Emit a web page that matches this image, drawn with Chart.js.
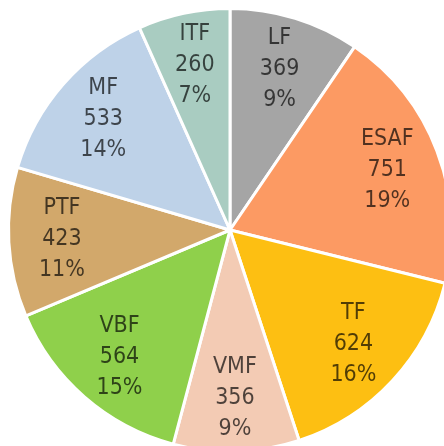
<!DOCTYPE html>
<html>
<head>
<meta charset="utf-8">
<script src="https://cdn.jsdelivr.net/npm/chart.js@4/dist/chart.umd.min.js"></script>
<style>
  html, body { margin: 0; padding: 0; background: #fff; overflow: hidden; }
  #wrap { width: 444px; height: 446px; overflow: hidden; }
</style>
</head>
<body>
<div id="wrap"><canvas id="pie" width="460" height="460"></canvas></div>
<script>
// data
const categories = ["LF", "ESAF", "TF", "VMF", "VBF", "PTF", "MF", "ITF"];
const counts = [369, 751, 624, 356, 564, 423, 533, 260];
const percentLabels = ["9%", "19%", "16%", "9%", "15%", "11%", "14%", "7%"];
const sliceColors = ["#a5a5a5", "#fc9a63", "#fdbf12", "#f3cbb4", "#8fd04b", "#d2a86b", "#bed2e8", "#a9ccc1"];

// draws the three-line labels inside each slice
const sliceLabels = {
  id: "sliceLabels",
  afterDatasetsDraw(chart) {
    const ctx = chart.ctx;
    const meta = chart.getDatasetMeta(0);
    ctx.save();
    ctx.font = '23px "Liberation Sans Narrow", "DejaVu Sans Condensed", sans-serif';
    ctx.fillStyle = "rgba(0, 0, 0, 0.68)";
    ctx.textAlign = "center";
    ctx.textBaseline = "middle";
    meta.data.forEach((arc, i) => {
      const p = arc.getProps(["x", "y", "startAngle", "endAngle", "outerRadius"], true);
      const mid = (p.startAngle + p.endAngle) / 2;
      const r = p.outerRadius * 0.76;
      const cx = p.x + Math.cos(mid) * r;
      const cy = p.y + Math.sin(mid) * r;
      const lines = [categories[i], String(counts[i]), percentLabels[i]];
      lines.forEach((t, k) => {
        ctx.fillText(t, cx, cy + (k - 1) * 31);
      });
    });
    ctx.restore();
  }
};

new Chart(document.getElementById("pie"), {
  type: "pie",
  data: {
    labels: categories,
    datasets: [{
      data: counts,
      backgroundColor: sliceColors,
      borderColor: "#ffffff",
      borderWidth: 3
    }]
  },
  options: {
    responsive: false,
    animation: false,
    layout: { padding: 7 },
    plugins: {
      legend: { display: false },
      tooltip: { enabled: false }
    }
  },
  plugins: [sliceLabels]
});
</script>
</body>
</html>
